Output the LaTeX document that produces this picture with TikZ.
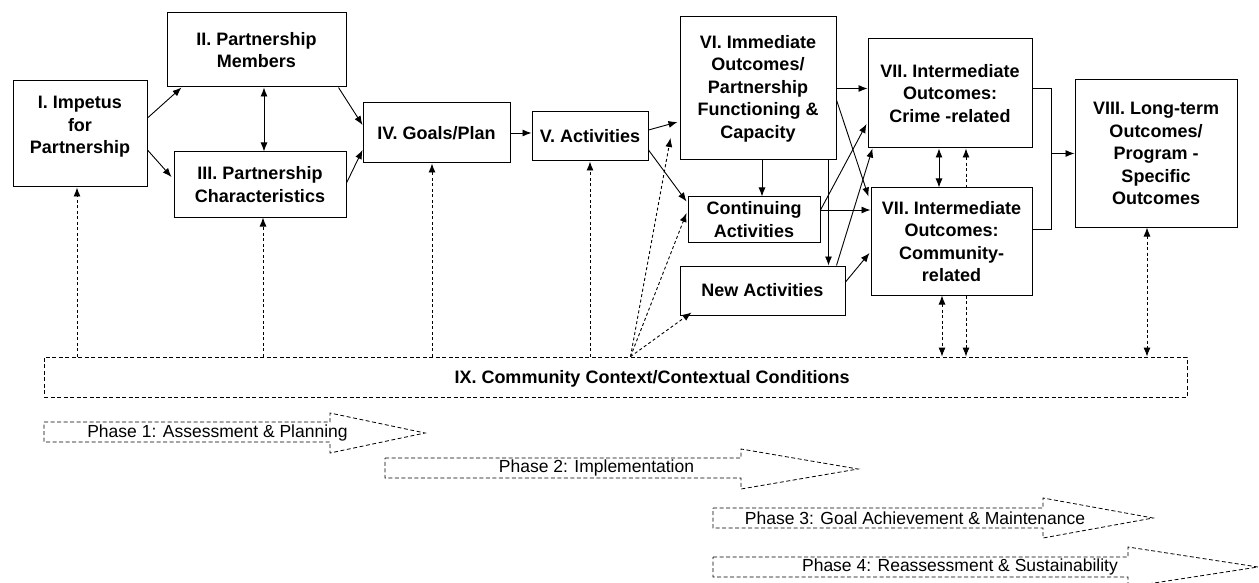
\documentclass[tikz,border=0pt]{standalone}
\usepackage{fontspec}
\setmainfont{Liberation Sans}
\usetikzlibrary{arrows.meta,calc}
\tikzset{
  box/.style={draw=black, line width=1pt, fill=white, align=center, inner sep=0pt,
    font=\fontsize{18}{22.5}\selectfont\bfseries},
  boxtext/.style={align=center, inner sep=0pt, font=\fontsize{18}{22.5}\selectfont\bfseries},
  con/.style={line width=0.9pt, -{Latex[length=9pt,width=7pt]}},
  dbl/.style={line width=0.9pt, {Latex[length=9pt,width=7pt]}-{Latex[length=9pt,width=7pt]}},
  dashy/.style={dash pattern=on 3pt off 2.5pt},
  plain/.style={line width=0.9pt},
  phase/.style={draw, line width=0.8pt, dash pattern=on 4pt off 2.5pt},
  phasetext/.style={inner sep=0pt, font=\fontsize{17.5}{21}\selectfont},
}
\begin{document}
\begin{tikzpicture}[x=1pt,y=-1pt]
\useasboundingbox (0,0) rectangle (1259,583);

% boxes
\node[box, minimum width=134pt, minimum height=106pt] (I) at (80,134) {};
\node[boxtext] (Itext) at (80,127) {I. Impetus\\for\\Partnership};
\node[box, minimum width=179pt, minimum height=74pt] (II) at (256.5,50) {II. Partnership\\Members};
\node[box, minimum width=172pt, minimum height=65pt] (III) at (260,184.5) {III. Partnership\\Characteristics};
\node[box, minimum width=147pt, minimum height=60pt] (IV) at (436.5,133) {IV. Goals/Plan};
\node[box, minimum width=116pt, minimum height=49pt] (V) at (590,136.5) {V. Activities};
\node[box, minimum width=156pt, minimum height=143pt] (VI) at (758,88.5) {VI. Immediate\\Outcomes/\\Partnership\\Functioning \&\\Capacity};
\node[box, minimum width=132pt, minimum height=45pt] (Cont) at (754,219.5) {Continuing\\Activities};
\node[box, minimum width=165pt, minimum height=49pt] (New) at (762.5,290.5) {New Activities};
\node[box, minimum width=164pt, minimum height=109pt] (VIIc) at (950,93.5) {VII. Intermediate\\Outcomes:\\Crime -related};
\node[box, minimum width=162pt, minimum height=147pt] (VIII) at (1156,153.5) {VIII. Long-term\\Outcomes/\\Program -\\Specific\\Outcomes};
\node[box, dash pattern=on 4pt off 2.5pt, line width=0.8pt, minimum width=1143pt, minimum height=40pt] (IX) at (615.5,377) {};
\node[boxtext] (IXtext) at (652,379) {IX. Community Context/Contextual Conditions};

% dashed line behind community box
\draw[plain, dashy, {Latex[length=9pt,width=7pt]}-] ([xshift=16pt]VIIc.south) -- ++(0,45);
\node[box, minimum width=161pt, minimum height=107pt] (VIIm) at (951.5,241.5) {VII. Intermediate\\Outcomes:\\Community-\\related};
\draw[con, dashy] ([xshift=16pt]VIIc.south |- VIIm.south) -- ([xshift=16pt]VIIc.south |- IX.north);

% solid connectors
\draw[con] ([yshift=16pt]I.east) -- ([xshift=15pt]II.south west);
\draw[con] ([yshift=-16pt]I.east) -- ([xshift=-2pt,yshift=7.5pt]III.west);
\draw[dbl] ([xshift=7.5pt]II.south) -- ([xshift=7.5pt]II.south |- III.north);
\draw[con] ([xshift=-8pt]II.south east) -- ([yshift=8pt]IV.west);
\draw[con] ([yshift=1.5pt]III.east) -- ([yshift=-17pt]IV.west);
\draw[con] (IV.east) -- (IV.east -| V.west);
\draw[con] ([yshift=6.5pt]V.east) -- ([xshift=-2pt,yshift=-33.5pt]VI.west);
\draw[con] ([yshift=-13.5pt]V.east) -- ([xshift=-1pt,yshift=-5pt]Cont.north west);
\draw[con] ([xshift=4pt]VI.south) -- ([xshift=4pt]VI.south |- Cont.north);
\draw[con] ([xshift=-8pt]VI.south east) -- ([xshift=-8pt]VI.south east |- New.north);
\draw[con] (VI.east) -- (VI.east -| VIIc.west);
\draw[con] ([yshift=-11.5pt]VI.east) -- ([xshift=-2pt,yshift=-9pt]VIIm.north west);
\draw[con] ([yshift=9.5pt]Cont.east) -- ([xshift=-1pt,yshift=-30.5pt]VIIc.west);
\draw[con] ([yshift=9.5pt]Cont.east) -- ([yshift=9.5pt]Cont.east -| VIIm.west);
\draw[con] ([xshift=-9pt]New.north east) -- ([xshift=5pt]VIIc.south west);
\draw[con] ([yshift=8.5pt]New.east) -- ([xshift=-1pt,yshift=-11.5pt]VIIm.west);
\draw[dbl] ([xshift=-11pt]VIIc.south) -- ([xshift=-11pt]VIIc.south |- VIIm.north);

% bracket to VIII
\coordinate (brk) at (1051,153.5);
\coordinate (ce) at ([yshift=5.5pt]VIIc.east);
\coordinate (me) at ([yshift=12.5pt]VIIm.east);
\draw[plain] (ce) -| (brk |- me) -- (me);
\draw[con] (brk) -- (brk -| VIII.west);

% dashed from context
\draw[con, dashy] ([xshift=-3pt]I.south |- IX.north) -- ([xshift=-3pt]I.south);
\draw[con, dashy] ([xshift=3pt]III.south |- IX.north) -- ([xshift=3pt]III.south);
\draw[con, dashy] ([xshift=-4.5pt]IV.south |- IX.north) -- ([xshift=-4.5pt]IV.south);
\draw[con, dashy] (V.south |- IX.north) -- (V.south);
\coordinate (cc) at ([xshift=15pt]IX.north);
\draw[con, dashy] (cc) -- ([xshift=-9pt,yshift=-49.5pt]VI.west);
\draw[con, dashy] (cc) -- ([xshift=-1pt,yshift=6.5pt]Cont.west);
\draw[con, dashy] (cc) -- ([xshift=12pt,yshift=3pt]New.south west);
\draw[dbl, dashy] ([xshift=-9.5pt]VIIm.south) -- ([xshift=-9.5pt]VIIm.south |- IX.north);
\draw[dbl, dashy] ([xshift=-9pt]VIII.south) -- ([xshift=-9pt]VIII.south |- IX.north);

% phase arrows
\draw[phase] (44,422) -- (330,422) -- (330,413) -- (425,433) -- (330,453) -- (330,442) -- (44,442) -- cycle;
\node[phasetext] (p1) at (217.5,433) {Phase 1: Assessment \& Planning};
\draw[phase] (385,458) -- (741,458) -- (741,449) -- (858,469) -- (741,489) -- (741,478) -- (385,478) -- cycle;
\node[phasetext] (p2) at (596.5,468) {Phase 2: Implementation};
\draw[phase] (713,508) -- (1043,508) -- (1043,498) -- (1153,518) -- (1043,538) -- (1043,528) -- (713,528) -- cycle;
\node[phasetext] (p3) at (915,518) {Phase 3: Goal Achievement \& Maintenance};
\draw[phase] (713,557) -- (1128,557) -- (1128,547) -- (1258,567) -- (1128,587) -- (1128,577) -- (713,577) -- cycle;
\node[phasetext] (p4) at (960,567) {Phase 4: Reassessment \& Sustainability};
\end{tikzpicture}
\end{document}
